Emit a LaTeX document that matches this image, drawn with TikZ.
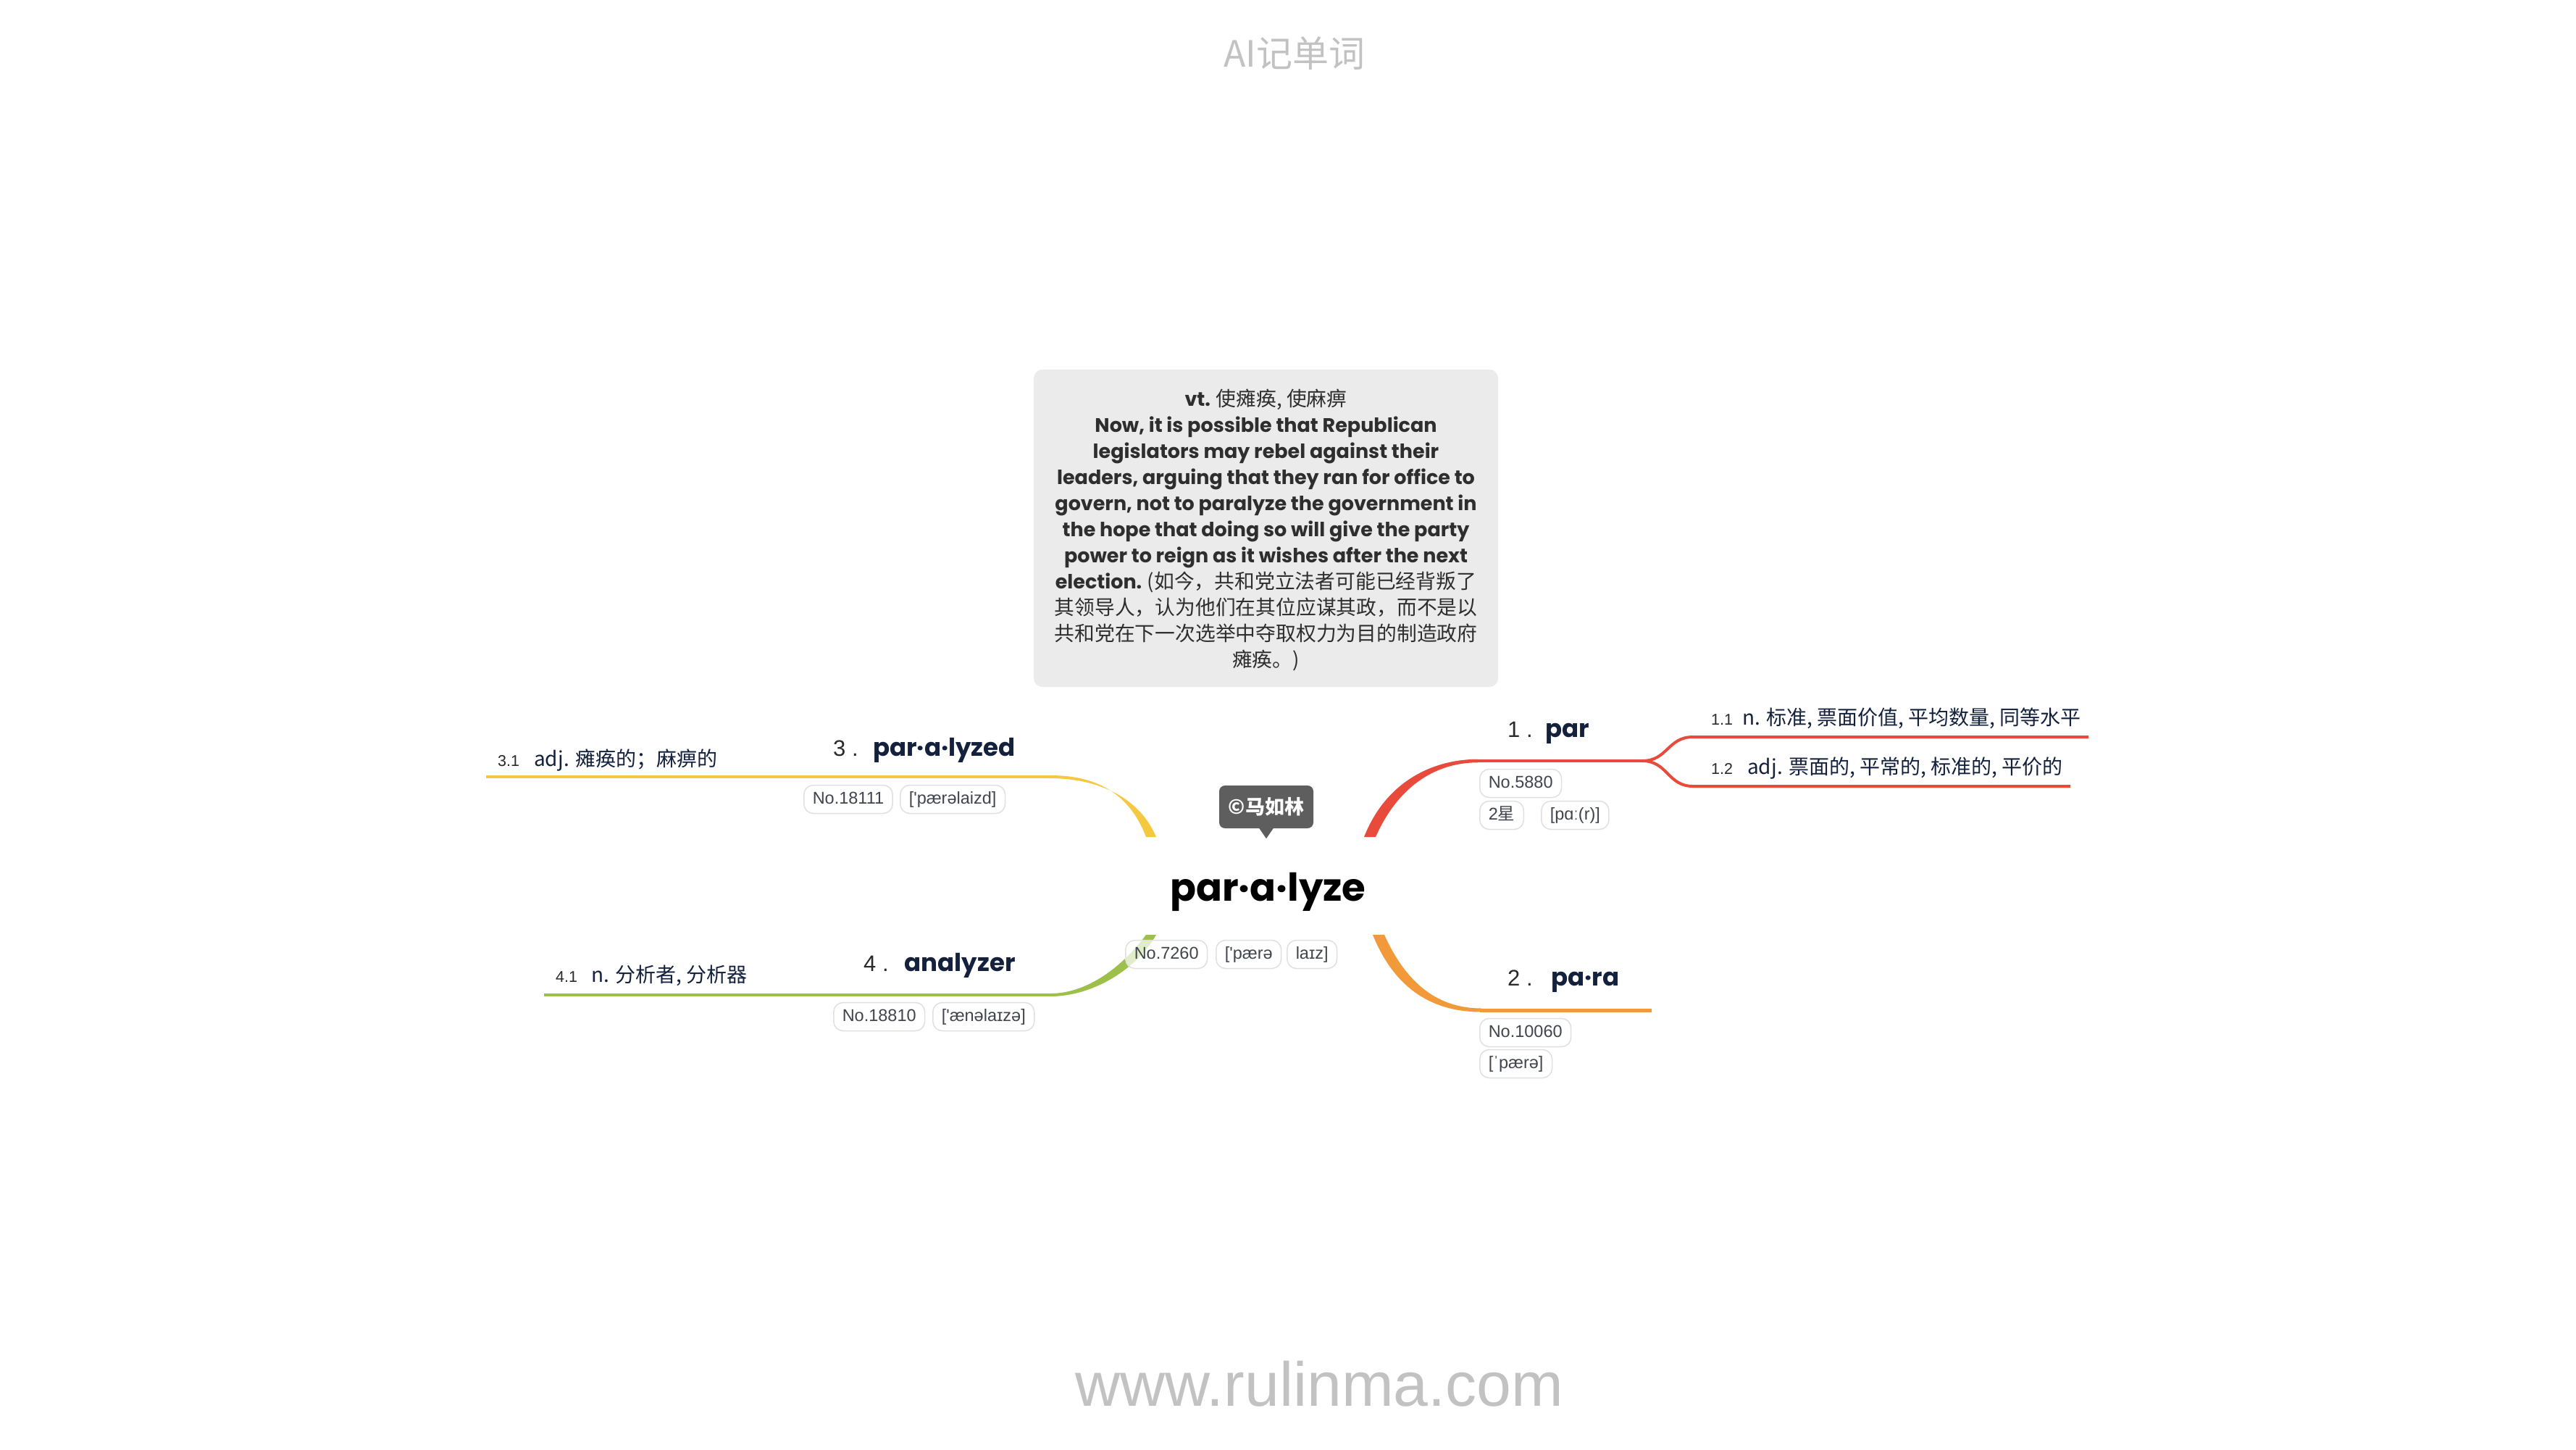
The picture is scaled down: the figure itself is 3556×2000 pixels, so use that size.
\documentclass[tikz,border=0pt]{standalone}
\usepackage{fontspec}
\setmainfont{Poppins}
\newfontfamily\cjk{Noto Sans CJK SC}
\newfontfamily\lib{Liberation Sans}
\usetikzlibrary{calc}
\definecolor{redb}{HTML}{E84B3C}
\definecolor{orangeb}{HTML}{F2993A}
\definecolor{yellowb}{HTML}{F5C842}
\definecolor{greenb}{HTML}{9CC04A}
\definecolor{navy}{HTML}{14213D}
\definecolor{exgray}{HTML}{EBEBEB}
\definecolor{extextc}{HTML}{2E2E2E}
\definecolor{taggray}{HTML}{E0E0E0}
\definecolor{tagtext}{HTML}{40444C}
\definecolor{bubblegray}{HTML}{5E5E5E}
\definecolor{titlegray}{HTML}{C2C2C2}
\definecolor{numgray}{HTML}{2A2A2A}
\newcommand\zhtxt[1]{{\cjk\mdseries\fontsize{27.8pt}{36pt}\selectfont #1}}
\begin{document}
\begin{tikzpicture}[x=1pt,y=-1pt,
  tag/.style={draw=taggray, line width=1.5pt, fill=white, fill opacity=0.7, text opacity=1,
    rounded corners=13pt, minimum height=39pt, inner xsep=12pt, inner ysep=0pt,
    text height=17pt, text depth=5pt,
    font=\lib\fontsize{23.5pt}{24pt}\selectfont, text=tagtext, anchor=west},
  numlab/.style={font=\lib\fontsize{31pt}{34pt}\selectfont, text=numgray, anchor=base west, inner sep=0pt},
  wordlab/.style={font=\bfseries\fontsize{34pt}{38pt}\selectfont, text=navy, anchor=base west, inner sep=0pt},
  subnum/.style={font=\lib\fontsize{21.5pt}{22pt}\selectfont, text=numgray, anchor=base west, inner sep=0pt},
  subtxt/.style={font=\cjk\fontsize{28pt}{30pt}\selectfont, text=navy, anchor=base west, inner sep=0pt},
  extxt/.style={align=center, font=\bfseries\fontsize{27pt}{36pt}\selectfont, text=extextc, inner sep=0pt}
]
\useasboundingbox[fill=white] (0,0) rectangle (3556,2000);

% title and footer
\node[font=\cjk\fontsize{50pt}{55pt}\selectfont, text=titlegray, anchor=base, inner sep=0pt] (title) at (1787,92) {AI记单词};
\node[font=\lib\fontsize{86pt}{90pt}\selectfont, text=titlegray, anchor=base, inner sep=0pt] (web) at (1821,1940) {www.rulinma.com};

% example box
\node[fill=exgray, rounded corners=12pt, minimum width=641pt, minimum height=438pt, inner sep=0pt] (ex) at (1747.5,729) {};
\node[extxt] (extext) at (1747.5,731) {%
{vt.} \zhtxt{使瘫痪, 使麻痹}\\
Now, it is possible that Republican\\
legislators may rebel against their\\
leaders, arguing that they ran for office to\\
govern, not to paralyze the government in\\
the hope that doing so will give the party\\
power to reign as it wishes after the next\\
election. \zhtxt{(如今，共和党立法者可能已经背叛了}\\
\zhtxt{其领导人，认为他们在其位应谋其政，而不是以}\\
\zhtxt{共和党在下一次选举中夺取权力为目的制造政府}\\
\zhtxt{瘫痪。)}};

% connector coordinates
\coordinate (r1) at (1891,1155);
\coordinate (r1h) at (2040,1050);
\coordinate (r1s) at (2267,1050);
\coordinate (s11) at (2337,1017);
\coordinate (e11) at (2883,1017);
\coordinate (s12) at (2337,1085);
\coordinate (e12) at (2858,1085);
\coordinate (r2) at (1903,1290);
\coordinate (r2h) at (2045,1394);
\coordinate (e2) at (2280,1394);
\coordinate (r3) at (1589,1155);
\coordinate (r3h) at (1450,1072);
\coordinate (e3) at (671,1072);
\coordinate (r4) at (1589,1290);
\coordinate (r4h) at (1450,1373);
\coordinate (e4) at (751,1373);

% branch 1 (red)
\fill[redb] ($(r1)+(-8,0)$) .. controls ($(r1)+(21,-74)$) and ($(r1h)+(-65,-2.25)$) .. ($(r1h)+(0,-2.25)$)
  -- ($(r1h)+(0,2.25)$) .. controls ($(r1h)+(-62,2.25)$) and ($(r1)+(37,-66)$) .. ($(r1)+(8,0)$) -- cycle;
\draw[redb, line width=4.5pt] ($(r1h)+(-2,0)$) -- (r1s);
\draw[redb, line width=4pt] (r1s) .. controls ($(r1s)+(35,0)$) and ($(s11)+(-35,0)$) .. (s11) -- (e11);
\draw[redb, line width=4pt] (r1s) .. controls ($(r1s)+(35,0)$) and ($(s12)+(-35,0)$) .. (s12) -- (e12);

% branch 2 (orange)
\fill[orangeb] ($(r2)+(8,0)$) .. controls ($(r2)+(40,71)$) and ($(r2h)+(-57,-2.5)$) .. ($(r2h)+(0,-2.5)$)
  -- ($(r2h)+(0,2.5)$) .. controls ($(r2h)+(-63,2.5)$) and ($(r2)+(24,79)$) .. ($(r2)+(-8,0)$) -- cycle;
\draw[orangeb, line width=5pt] ($(r2h)+(-2,0)$) -- (e2);

% branch 3 (yellow)
\fill[yellowb] ($(r3)+(-7,0)$) .. controls ($(r3)+(-31,-63)$) and ($(r3h)+(60,-2)$) .. ($(r3h)+(0,-2)$)
  -- ($(r3h)+(0,2)$) .. controls ($(r3h)+(62,2)$) and ($(r3)+(-17,-57)$) .. ($(r3)+(7,0)$) -- cycle;
\draw[yellowb, line width=4pt] ($(r3h)+(2,0)$) -- (e3);

% branch 4 (green)
\fill[greenb] ($(r4)+(7,0)$) .. controls ($(r4)+(-21,49)$) and ($(r4h)+(57,2)$) .. ($(r4h)+(0,2)$)
  -- ($(r4h)+(0,-2)$) .. controls ($(r4h)+(53,-2)$) and ($(r4)+(-37,41)$) .. ($(r4)+(-7,0)$) -- cycle;
\draw[greenb, line width=4pt] ($(r4h)+(2,0)$) -- (e4);

% root
\node[font=\bfseries\fontsize{53pt}{60pt}\selectfont, text=black, anchor=base west, inner sep=0pt] (root) at (1615,1243) {par·a·lyze};
\node[fill=bubblegray, rounded corners=8pt, minimum width=130pt, minimum height=59pt, inner sep=0pt,
  font=\cjk\bfseries\fontsize{27pt}{30pt}\selectfont, text=white] (bubble) at (1748,1113.5) {©马如林};
\fill[bubblegray] ($(bubble.south)+(-10,-0.5)$) -- ($(bubble.south)+(10,-0.5)$) -- ($(bubble.south)+(0,14)$) -- cycle;
\node[tag] (t0a) at (1553,1317) {No.7260};
\node[tag] (t0b) at (1678,1317) {['pærə};
\node[tag] (t0c) at (1776,1317) {laɪz]};

% branch 1 labels
\node[numlab] (n1) at (2081,1017) {1 .};
\node[wordlab] (w1) at (2133,1017) {par};
\node[tag] (t1a) at (2042,1081) {No.5880};
\node[tag] (t1b) at (2042,1125) {2{\cjk 星}\hspace{14pt}};
\node[tag] (t1c) at (2127,1125) {[pɑː(r)]};
\node[subnum] (n11) at (2362,1000) {1.1};
\node[subtxt] (d11) at (2405,1000) {n. 标准, 票面价值, 平均数量, 同等水平};
\node[subnum] (n12) at (2362,1068) {1.2};
\node[subtxt] (d12) at (2412,1068) {adj. 票面的, 平常的, 标准的, 平价的};

% branch 2 labels
\node[numlab] (n2) at (2081,1360) {2 .};
\node[wordlab] (w2) at (2141,1360) {pa·ra};
\node[tag] (t2a) at (2042,1425) {No.10060};
\node[tag] (t2b) at (2042,1468) {[ˈpærə]};

% branch 3 labels
\node[numlab] (n3) at (1150,1043) {3 .};
\node[wordlab, anchor=base east] (w3) at (1402,1043) {par·a·lyzed};
\node[tag] (t3a) at (1109,1103) {No.18111};
\node[tag] (t3b) at (1242,1103) {['pærəlaizd]};
\node[subnum] (n31) at (687,1057) {3.1};
\node[subtxt] (d31) at (737,1057) {adj. 瘫痪的；麻痹的};

% branch 4 labels
\node[numlab] (n4) at (1192,1340) {4 .};
\node[wordlab, anchor=base east] (w4) at (1402,1340) {analyzer};
\node[tag] (t4a) at (1150,1403) {No.18810};
\node[tag] (t4b) at (1287,1403) {['ænəlaɪzə]};
\node[subnum] (n41) at (767,1355) {4.1};
\node[subtxt] (d41) at (816,1355) {n. 分析者, 分析器};
\end{tikzpicture}
\end{document}
